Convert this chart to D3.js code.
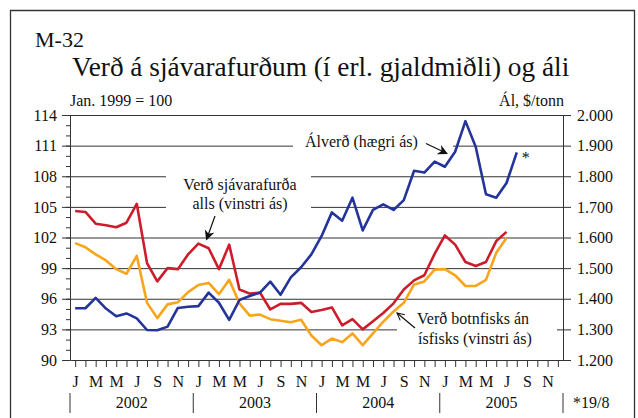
<!DOCTYPE html>
<html><head><meta charset="utf-8">
<script src="https://cdn.jsdelivr.net/npm/d3@7/dist/d3.min.js"></script>
<style>
html,body{margin:0;padding:0;background:#fff;}
svg{display:block;}
text{font-family:"Liberation Serif","Times New Roman",serif;fill:#111;}
</style></head><body>
<svg id="chart" width="638" height="418"></svg>
<script>
// ---- data ----
const monthLetters = ["J","F","M","A","M","J","J","A","S","O","N","D"];
const years = ["2002","2003","2004","2005"];
const leftTicks = [90,93,96,99,102,105,108,111,114];
const rightTicks = [1200,1300,1400,1500,1600,1700,1800,1900,2000];
// Verð sjávarafurða alls (vinstri ás), Jan 2002 - Jul 2005
const seafoodTotal = [104.6,104.5,103.35,103.2,103.0,103.45,105.3,99.5,97.7,99.0,98.9,100.35,
  101.4,100.95,98.9,101.3,96.9,96.5,96.6,94.95,95.5,95.5,95.6,94.7,
  94.9,95.15,93.4,94.0,93.0,93.8,94.6,95.55,96.9,97.8,98.3,100.4,
  102.2,101.3,99.6,99.2,99.6,101.65,102.55];
// Verð botnfisks án ísfisks (vinstri ás)
const groundfish = [101.45,101.05,100.35,99.75,98.9,98.45,100.2,95.6,94.1,95.45,95.65,96.65,
  97.35,97.55,96.45,97.85,95.55,94.35,94.45,94.0,93.85,93.7,93.95,92.4,
  91.45,92.1,91.75,92.6,91.45,92.6,93.75,94.75,95.6,97.4,97.7,98.85,
  98.9,98.3,97.25,97.25,97.85,100.5,101.95];
// Álverð (hægri ás), $/tonn, Jan 2002 - Aug 2005
const aluminium = [1369,1369,1403,1368,1343,1352,1336,1298,1297,1309,1370,1374,
  1376,1420,1387,1331,1396,1409,1420,1456,1413,1470,1503,1545,
  1605,1682,1655,1730,1623,1690,1708,1690,1722,1818,1812,1848,
  1831,1880,1980,1896,1741,1730,1778,1878];

// ---- layout ----
const svg = d3.select("#chart");
const L = 70, R = 563, T = 115, B = 360;
const nMonths = 48;
const x = d3.scalePoint().domain(d3.range(nMonths)).range([L, R]).padding(0.5);
const step = x.step();
const yL = d3.scaleLinear().domain([90,114]).range([B, T]);
const yR = d3.scaleLinear().domain([1200,2000]).range([B, T]);
const isl = d3.formatLocale({decimal:",", thousands:".", grouping:[3], currency:["","$"]});
const fmtR = isl.format(",");

// frame
svg.append("path")
  .attr("d", `M10.5,418 L10.5,10.5 L634.5,10.5 L634.5,418`)
  .attr("fill","none").attr("stroke","#333").attr("stroke-width",1.3);

// titles
svg.append("text").attr("x",35).attr("y",47).attr("font-size",22).text("M-32");
svg.append("text").attr("x",72).attr("y",76).attr("font-size",27.3)
  .text("Verð á sjávarafurðum (í erl. gjaldmiðli) og áli");
svg.append("text").attr("x",70).attr("y",106).attr("font-size",16).text("Jan. 1999 = 100");
svg.append("text").attr("x",564).attr("y",106).attr("font-size",16).attr("text-anchor","end").text("Ál, $/tonn");

// gridlines
svg.append("g").selectAll("line").data(leftTicks.filter(d=>d>90)).join("line")
  .attr("x1",L).attr("x2",R).attr("y1",d=>yL(d)+0.5).attr("y2",d=>yL(d)+0.5)
  .attr("stroke","#333").attr("stroke-width",1);

// label background gaps
const gaps = [[293,135,160,17],[166,168,145,46],[397,305,160,47]];
svg.append("g").selectAll("rect").data(gaps).join("rect")
  .attr("x",d=>d[0]).attr("y",d=>d[1]).attr("width",d=>d[2]).attr("height",d=>d[3])
  .attr("fill","#fff");

// axes
function styleAxis(g){
  g.selectAll("path,line").attr("stroke","#333").attr("stroke-width",1);
  g.selectAll("text").attr("font-size",16).attr("font-family",'"Liberation Serif",serif').attr("fill","#111");
}
svg.append("g").attr("transform",`translate(${L},0)`)
  .call(d3.axisLeft(yL).tickValues(d3.range(90,115,1)).tickSize(4).tickFormat(""))
  .call(g=>g.select(".domain").remove()).call(styleAxis);
svg.append("g").attr("transform",`translate(${L},0)`)
  .call(d3.axisLeft(yL).tickValues(leftTicks).tickSize(8).tickSizeOuter(0).tickPadding(5))
  .call(styleAxis);
svg.append("g").attr("transform",`translate(${R},0)`)
  .call(d3.axisRight(yR).tickValues(rightTicks).tickSize(8).tickSizeOuter(0).tickPadding(6).tickFormat(fmtR))
  .call(styleAxis);
svg.append("g").attr("transform",`translate(0,${B})`)
  .call(d3.axisBottom(x).tickSize(7).tickSizeOuter(0).tickPadding(9)
    .tickFormat(i => i%2===0 ? monthLetters[i%12] : ""))
  .call(styleAxis);
svg.append("line").attr("x1",L).attr("x2",R).attr("y1",T+0.5).attr("y2",T+0.5).attr("stroke","#333");

// year separators & labels
svg.append("g").selectAll("line").data(d3.range(years.length+1)).join("line")
  .attr("x1",d=>L+d*12*step).attr("x2",d=>L+d*12*step).attr("y1",393).attr("y2",413)
  .attr("stroke","#333").attr("stroke-width",1);
svg.append("g").selectAll("text").data(years).join("text")
  .attr("x",(d,i)=>L+(i*12+6)*step).attr("y",408).attr("font-size",16).attr("text-anchor","middle").text(d=>d);
svg.append("text").attr("x",573).attr("y",408).attr("font-size",16).text("*19/8");

// series lines
const lineL = d3.line().x((d,i)=>x(i)).y(d=>yL(d));
const lineR = d3.line().x((d,i)=>x(i)).y(d=>yR(d));
const series = [
  {data: groundfish, gen: lineL, color:"#f9a51b"},
  {data: seafoodTotal, gen: lineL, color:"#cc1d2d"},
  {data: aluminium, gen: lineR, color:"#24349a"}
];
svg.append("g").selectAll("path").data(series).join("path")
  .attr("d",d=>d.gen(d.data)).attr("fill","none").attr("stroke",d=>d.color)
  .attr("stroke-width",2.6).attr("stroke-linejoin","round");

svg.append("text").attr("x",x(aluminium.length-1)+5).attr("y",163).attr("font-size",16).text("*");

// annotations
const defs = svg.append("defs");
defs.append("marker").attr("id","ah").attr("viewBox","0 0 10 10").attr("refX",9).attr("refY",5)
  .attr("markerWidth",10).attr("markerHeight",10).attr("markerUnits","userSpaceOnUse").attr("orient","auto")
  .append("path").attr("d","M0,0 L10,5 L0,10 L3,5 Z").attr("fill","#111");
defs.append("marker").attr("id","ao").attr("viewBox","0 0 10 10").attr("refX",9).attr("refY",5)
  .attr("markerWidth",9).attr("markerHeight",9).attr("markerUnits","userSpaceOnUse").attr("orient","auto")
  .append("path").attr("d","M1,1 L9,5 L1,9").attr("fill","none").attr("stroke","#111").attr("stroke-width",1.2);

svg.append("text").attr("x",305).attr("y",147).attr("font-size",16).text("Álverð (hægri ás)");
svg.append("line").attr("x1",426).attr("y1",143.5).attr("x2",447).attr("y2",153.5)
  .attr("stroke","#111").attr("stroke-width",1.2).attr("marker-end","url(#ah)");

svg.append("text").attr("x",240).attr("y",190).attr("font-size",16).attr("text-anchor","middle").text("Verð sjávarafurða");
svg.append("text").attr("x",240).attr("y",209).attr("font-size",16).attr("text-anchor","middle").text("alls (vinstri ás)");
svg.append("line").attr("x1",215).attr("y1",216).attr("x2",206.5).attr("y2",239.5)
  .attr("stroke","#111").attr("stroke-width",1.2).attr("marker-end","url(#ah)");

svg.append("text").attr("x",417).attr("y",324).attr("font-size",16).text("Verð botnfisks án");
svg.append("text").attr("x",418).attr("y",344).attr("font-size",16).text("ísfisks (vinstri ás)");
svg.append("line").attr("x1",415).attr("y1",328).attr("x2",397).attr("y2",313)
  .attr("stroke","#111").attr("stroke-width",1.2).attr("marker-end","url(#ao)");
</script>
</body></html>
